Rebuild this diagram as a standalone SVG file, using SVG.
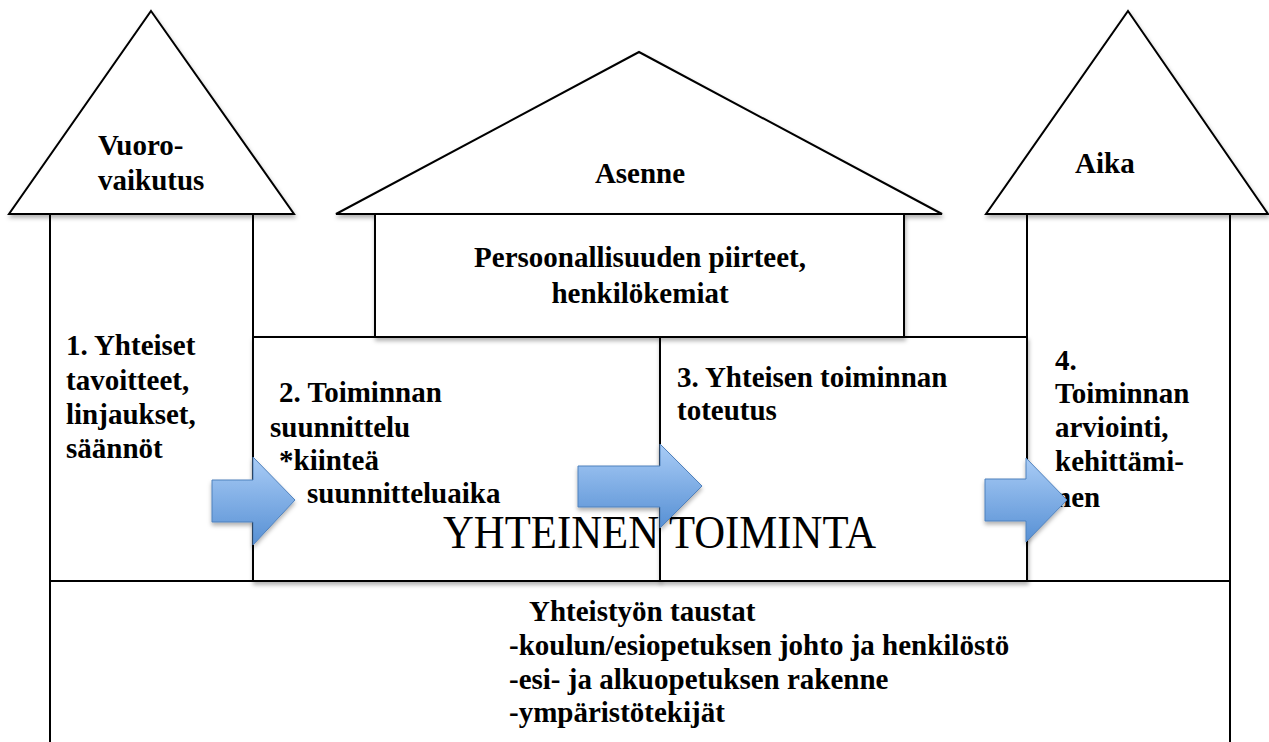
<svg xmlns="http://www.w3.org/2000/svg" width="1269" height="742" viewBox="0 0 1269 742">
<style>
.ln{fill:none;stroke:#000;stroke-width:2}
.sh{fill:#fff;stroke:#000;stroke-width:2;filter:url(#shadow)}
.t{font-family:"Liberation Serif","Times New Roman",serif;font-weight:bold;font-size:29px;fill:#000}
.c{text-anchor:middle}
.big{font-family:"Liberation Serif","Times New Roman",serif;font-size:46px;fill:#000}
.arr{fill:url(#blue);stroke:#4F81BD;stroke-width:1;filter:url(#ashadow)}
</style>
<defs>
<linearGradient id="blue" x1="0" y1="0" x2="0" y2="1">
<stop offset="0" stop-color="#A9CCF6"/>
<stop offset="1" stop-color="#5790D4"/>
</linearGradient>
<filter id="shadow" x="-5%" y="-5%" width="110%" height="115%">
<feDropShadow dx="1" dy="3" stdDeviation="2" flood-color="#000" flood-opacity="0.3"/>
</filter>
<filter id="ashadow" x="-20%" y="-20%" width="140%" height="150%">
<feDropShadow dx="0" dy="3" stdDeviation="2" flood-color="#000" flood-opacity="0.3"/>
</filter>
</defs>
<rect width="1269" height="742" fill="#fff"/>

<g id="base">
<path class="ln" d="M50,581 H1230 M50,581 V742 M1230,581 V742"/>
<text class="t" x="529" y="621">Yhteistyön taustat</text>
<text class="t" x="509" y="655">-koulun/esiopetuksen johto ja henkilöstö</text>
<text class="t" x="509" y="689">-esi- ja alkuopetuksen rakenne</text>
<text class="t" x="509" y="722">-ympäristötekijät</text>
</g>

<g id="pillar-left">
<path class="ln" d="M50,214 V581 M253,214 V581"/>
<text class="t" x="66" y="355">1. Yhteiset</text>
<text class="t" x="66" y="390">tavoitteet,</text>
<text class="t" x="66" y="424">linjaukset,</text>
<text class="t" x="66" y="458">säännöt</text>
</g>

<g id="pillar-right">
<path class="ln" d="M1027,214 V581 M1230,214 V581"/>
<text class="t" x="1055" y="370">4.</text>
<text class="t" x="1055" y="403">Toiminnan</text>
<text class="t" x="1055" y="437">arviointi,</text>
<text class="t" x="1055" y="471">kehittämi-</text>
<text class="t" x="1055" y="507">nen</text>
</g>

<g id="step2">
<rect class="sh" x="253" y="337" width="407" height="244"/>
<text class="t" x="279" y="402">2. Toiminnan</text>
<text class="t" x="270" y="437">suunnittelu</text>
<text class="t" x="279" y="470">*kiinteä</text>
<text class="t" x="307" y="503">suunnitteluaika</text>
</g>

<g id="step3">
<rect class="sh" x="660" y="337" width="367" height="244"/>
<text class="t" x="677" y="387">3. Yhteisen toiminnan</text>
<text class="t" x="677" y="420">toteutus</text>
</g>

<g id="roof-left">
<polygon class="sh" points="151,11 294,214 9,214"/>
<text class="t" x="98" y="155">Vuoro-</text>
<text class="t" x="98" y="190">vaikutus</text>
</g>

<g id="roof-middle">
<polygon class="sh" points="639,52 942,214 336,214"/>
<text class="t c" x="640" y="183">Asenne</text>
</g>

<g id="roof-right">
<polygon class="sh" points="1128,11 1268,214 986,214"/>
<text class="t" x="1075" y="173">Aika</text>
</g>

<g id="personality">
<rect class="sh" x="375" y="214" width="529" height="123"/>
<text class="t c" x="640" y="267">Persoonallisuuden piirteet,</text>
<text class="t c" x="640" y="303">henkilökemiat</text>
</g>

<g id="label-yhteinen">
<text class="big" x="443" y="548" textLength="433" lengthAdjust="spacingAndGlyphs">YHTEINEN TOIMINTA</text>
</g>

<g id="connectors">
<polygon class="arr" points="212,480 253,480 253,457 295,500 253,545 253,522 212,522"/>
<polygon class="arr" points="578,466 660,466 660,444 702,486 660,528 660,507 578,507"/>
<polygon class="arr" points="985,479 1026,479 1026,458 1067,500 1026,542 1026,521 985,521"/>
</g>
</svg>
